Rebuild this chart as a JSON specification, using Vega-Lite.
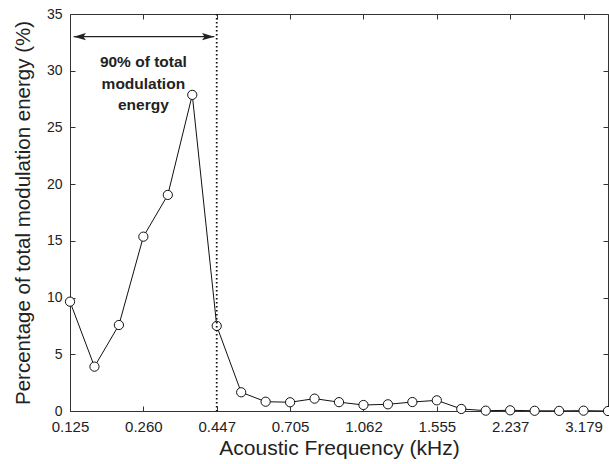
{
  "$schema": "https://vega.github.io/schema/vega-lite/v6.json",
  "width": 538,
  "height": 397,
  "autosize": {"type": "none"},
  "padding": {"left": 70, "top": 14, "right": 1, "bottom": 53},
  "config": {
    "view": {"stroke": "#333333", "strokeWidth": 1},
    "font": "Liberation Sans",
    "axis": {
      "grid": false, "domain": false, "tickColor": "#333333", "tickSize": -5,
      "labelFont": "Liberation Sans", "labelFontSize": 14, "labelColor": "#222222",
      "labelFlush": false, "labelOverlap": false,
      "titleFont": "Liberation Sans", "titleFontSize": 17, "titleFontWeight": "normal", "titleColor": "#222222"
    }
  },
  "datasets": {
    "energy": [
      {"idx": 0, "pct": 9.64}, {"idx": 1, "pct": 3.91}, {"idx": 2, "pct": 7.58},
      {"idx": 3, "pct": 15.37}, {"idx": 4, "pct": 19.05}, {"idx": 5, "pct": 27.87},
      {"idx": 6, "pct": 7.5}, {"idx": 7, "pct": 1.65}, {"idx": 8, "pct": 0.82},
      {"idx": 9, "pct": 0.77}, {"idx": 10, "pct": 1.09}, {"idx": 11, "pct": 0.78},
      {"idx": 12, "pct": 0.53}, {"idx": 13, "pct": 0.59}, {"idx": 14, "pct": 0.79},
      {"idx": 15, "pct": 0.94}, {"idx": 16, "pct": 0.18}, {"idx": 17, "pct": 0.03},
      {"idx": 18, "pct": 0.06}, {"idx": 19, "pct": 0.02}, {"idx": 20, "pct": 0.01},
      {"idx": 21, "pct": 0.03}, {"idx": 22, "pct": 0.0}
    ],
    "arrow": [{"x1": 0.15, "x2": 5.9, "y": 33.0}],
    "heads": [
      {"x": 0.4, "y": 33.0, "dir": "left"},
      {"x": 5.65, "y": 33.0, "dir": "right"}
    ],
    "note": [
      {"x": 3.0, "y": 30.75, "t": "90% of total"},
      {"x": 3.0, "y": 28.85, "t": "modulation"},
      {"x": 3.0, "y": 26.95, "t": "energy"}
    ],
    "cut": [{"x": 6}]
  },
  "resolve": {"axis": {"x": "independent", "y": "independent"}},
  "layer": [
    {
      "data": {"name": "energy"},
      "mark": {"type": "line", "color": "#111111", "strokeWidth": 1},
      "encoding": {
        "x": {
          "field": "idx", "type": "quantitative",
          "scale": {"domain": [0, 22], "nice": false, "zero": false},
          "axis": {
            "values": [0, 3, 6, 9, 12, 15, 18, 21],
            "labelExpr": "['0.125','0.260','0.447','0.705','1.062','1.555','2.237','3.179'][round(datum.value/3)]",
            "labelPadding": 13, "labelFontSize": 15,
            "title": "Acoustic Frequency (kHz)", "titlePadding": 3, "titleFontSize": 21
          }
        },
        "y": {
          "field": "pct", "type": "quantitative",
          "scale": {"domain": [0, 35], "nice": false},
          "axis": {
            "values": [0, 5, 10, 15, 20, 25, 30, 35],
            "labelPadding": 13,
            "title": "Percentage of total modulation energy (%)", "titlePadding": 13, "titleFontSize": 20.5
          }
        }
      }
    },
    {
      "data": {"name": "energy"},
      "mark": {"type": "point", "shape": "circle", "size": 85, "filled": false, "fill": "white", "fillOpacity": 1, "stroke": "#111111", "strokeWidth": 1, "opacity": 1},
      "encoding": {
        "x": {"field": "idx", "type": "quantitative", "axis": {"orient": "top", "values": [0, 3, 6, 9, 12, 15, 18, 21], "labels": false, "title": null}},
        "y": {"field": "pct", "type": "quantitative", "axis": {"orient": "right", "values": [0, 5, 10, 15, 20, 25, 30, 35], "labels": false, "title": null}}
      }
    },
    {
      "data": {"name": "cut"},
      "mark": {"type": "rule", "color": "#111111", "strokeWidth": 1.8, "strokeDash": [1.5, 2.5]},
      "encoding": {"x": {"field": "x", "type": "quantitative", "axis": null}}
    },
    {
      "data": {"name": "arrow"},
      "mark": {"type": "rule", "color": "#222222", "strokeWidth": 1.2},
      "encoding": {
        "x": {"field": "x1", "type": "quantitative", "axis": null},
        "x2": {"field": "x2"},
        "y": {"field": "y", "type": "quantitative", "axis": null}
      }
    },
    {
      "data": {"name": "heads"},
      "mark": {"type": "point", "filled": true, "color": "#222222", "size": 150, "opacity": 1},
      "encoding": {
        "x": {"field": "x", "type": "quantitative", "axis": null},
        "y": {"field": "y", "type": "quantitative", "axis": null},
        "shape": {
          "field": "dir", "type": "nominal",
          "scale": {"domain": ["left", "right"], "range": ["M -1 0 L 1 -0.6 L 0.6 0 L 1 0.6 Z", "M 1 0 L -1 -0.6 L -0.6 0 L -1 0.6 Z"]},
          "legend": null
        }
      }
    },
    {
      "data": {"name": "note"},
      "mark": {"type": "text", "font": "Liberation Sans", "fontSize": 15.5, "fontWeight": "bold", "color": "#222222", "align": "center", "baseline": "middle"},
      "encoding": {
        "x": {"field": "x", "type": "quantitative", "axis": null},
        "y": {"field": "y", "type": "quantitative", "axis": null},
        "text": {"field": "t"}
      }
    }
  ]
}
